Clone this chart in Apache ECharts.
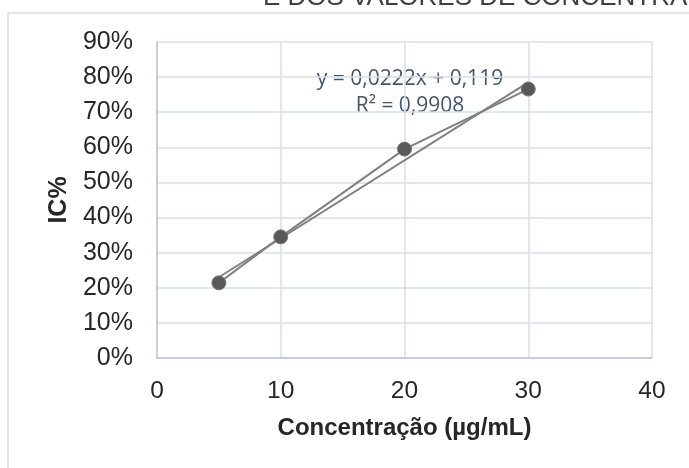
<!DOCTYPE html>
<html>
<head>
<meta charset="utf-8">
<script src="https://cdn.jsdelivr.net/npm/echarts@6/dist/echarts.min.js"></script>
<style>
  html, body { margin: 0; padding: 0; background: #ffffff; }
  #chart { width: 689px; height: 468px; }
</style>
</head>
<body>
<div id="chart"></div>
<script>
// Concentration (µg/mL) and inhibition (IC%) measured at each level
const concentrations = [5, 10, 20, 30];
const inhibition = [0.214, 0.345, 0.595, 0.766];

// Linear trend reported on the chart
const trendSlope = 0.0222;
const trendIntercept = 0.119;
const trendRange = [5, 30];
const equationLines = ['y = 0,0222x + 0,119', 'R² = 0,9908'];

const titleText = 'E DOS VALORES DE CONCENTRA';
const xAxisTitle = 'Concentração (µg/mL)';
const yAxisTitle = 'IC%';

const dataPoints = concentrations.map((c, i) => [c, inhibition[i]]);
const trendPoints = trendRange.map(x => [x, trendSlope * x + trendIntercept]);

const chart = echarts.init(document.getElementById('chart'), null, { renderer: 'canvas' });

const axisFont = 'Liberation Sans, Arial, sans-serif';

chart.setOption({
  animation: false,
  backgroundColor: '#ffffff',
  grid: { left: 157, right: 37, top: 42, bottom: 110, containLabel: false },
  xAxis: {
    type: 'value',
    min: 0, max: 40, interval: 10,
    name: xAxisTitle,
    nameLocation: 'middle',
    nameGap: 58,
    nameTextStyle: { fontFamily: axisFont, fontWeight: 'bold', fontSize: 24, color: '#262626' },
    axisLine: { show: true, lineStyle: { color: '#bcc5d3', width: 1.5 } },
    axisTick: { show: false },
    axisLabel: { fontFamily: axisFont, fontSize: 24.5, color: '#262626', margin: 21 },
    splitLine: { show: true, lineStyle: { color: '#d9dee8', width: 1.5 } }
  },
  yAxis: {
    type: 'value',
    min: 0, max: 0.9, interval: 0.1,
    name: yAxisTitle,
    nameLocation: 'middle',
    nameGap: 80,
    nameRotate: 90,
    nameTextStyle: { fontFamily: axisFont, fontWeight: 'bold', fontSize: 25, color: '#262626' },
    axisLine: { show: true, lineStyle: { color: '#bcc5d3', width: 1.5 } },
    axisTick: { show: false },
    axisLabel: {
      fontFamily: axisFont, fontSize: 25, color: '#262626', margin: 24,
      formatter: v => Math.round(v * 100) + '%'
    },
    splitLine: { show: true, lineStyle: { color: '#d9dee8', width: 1.5 } }
  },
  graphic: [
    {
      type: 'rect', z: -10, silent: true,
      shape: { x: 8, y: 13, width: 900, height: 700 },
      style: { fill: 'none', stroke: '#d9dde5', lineWidth: 1.5 }
    },
    {
      type: 'text', silent: true,
      style: {
        text: titleText, x: 263, y: -2,
        font: '26px ' + axisFont, fill: '#404040',
        textAlign: 'left', textVerticalAlign: 'middle'
      }
    },
    {
      type: 'text', silent: true,
      style: {
        text: equationLines[0], x: 410, y: 79,
        font: '21px "Open Sans", sans-serif', fill: '#44546a',
        textAlign: 'center', textVerticalAlign: 'middle'
      }
    },
    {
      type: 'text', silent: true,
      style: {
        text: equationLines[1], x: 410, y: 106,
        font: '21px "Open Sans", sans-serif', fill: '#44546a',
        textAlign: 'center', textVerticalAlign: 'middle'
      }
    }
  ],
  series: [
    {
      name: 'Tendência',
      type: 'line',
      data: trendPoints,
      showSymbol: false,
      symbol: 'none',
      lineStyle: { color: '#808080', width: 2 },
      z: 2
    },
    {
      name: 'IC%',
      type: 'line',
      data: dataPoints,
      symbol: 'circle',
      symbolSize: 14,
      lineStyle: { color: '#808080', width: 2 },
      itemStyle: { color: '#595959', borderColor: '#787878', borderWidth: 1 },
      z: 3
    }
  ]
});
</script>
</body>
</html>
